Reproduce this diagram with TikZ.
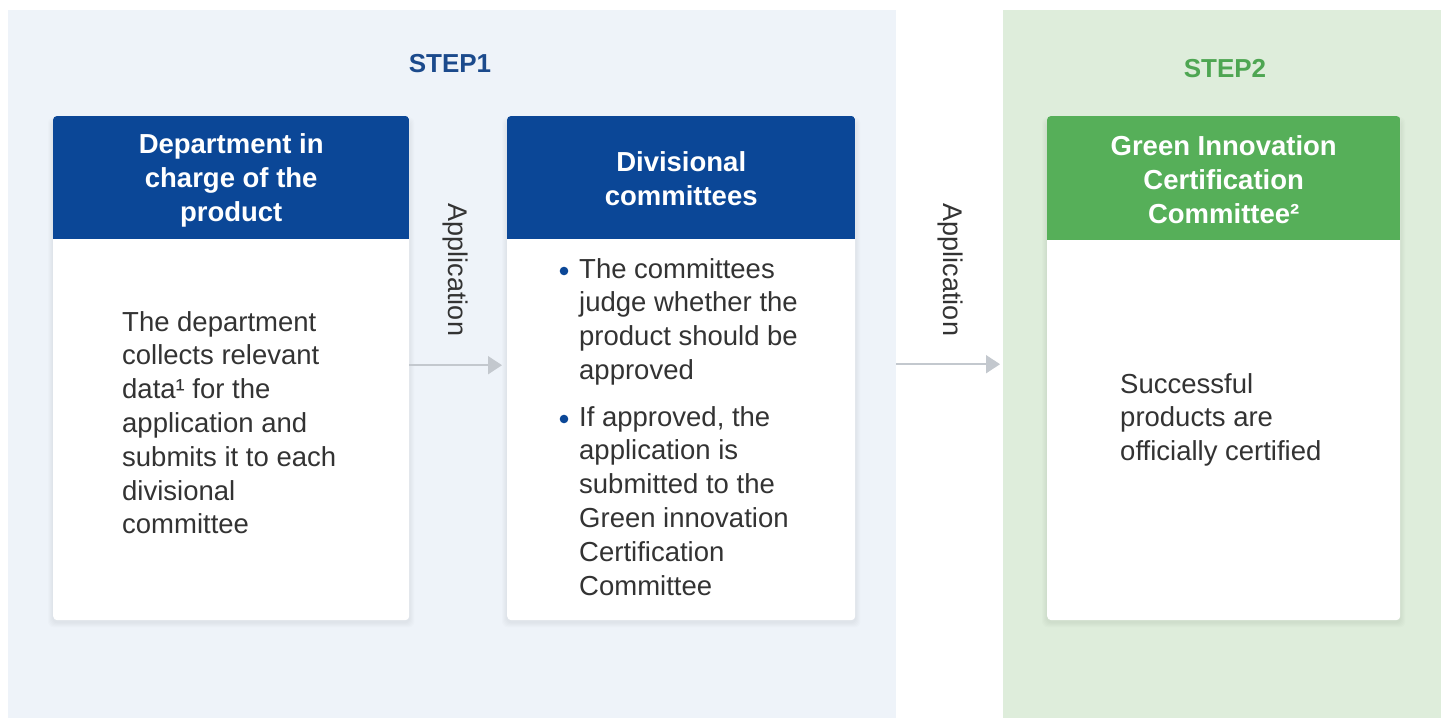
\documentclass[tikz,border=0pt]{standalone}
\usepackage{fontspec}
\setmainfont{Liberation Sans}
\usetikzlibrary{arrows.meta}
\definecolor{panelblue}{HTML}{EEF3F9}
\definecolor{panelgreen}{HTML}{DEEDDB}
\definecolor{hblue}{HTML}{0B4797}
\definecolor{hgreen}{HTML}{56AF59}
\definecolor{stepblue}{HTML}{1B4A8C}
\definecolor{stepgreen}{HTML}{4EA652}
\definecolor{bodytext}{HTML}{333333}
\definecolor{arrowgray}{HTML}{C3C8CE}
\pgfdeclarelayer{bg}
\pgfsetlayers{bg,main}
\tikzset{
  panel/.style={draw=none, inner sep=0pt, anchor=north west, minimum height=708pt},
  card/.style={fill=white, rounded corners=4pt, inner sep=0pt, anchor=north west, minimum height=504pt},
  head/.style={inner sep=0pt, anchor=north west, minimum height=123pt, text=white, align=center,
    font=\fontsize{27.5pt}{34pt}\selectfont\bfseries},
  headtext/.style={inner sep=0pt, text=white, align=center,
    font=\fontsize{27.5pt}{34pt}\selectfont\bfseries},
  body/.style={inner sep=0pt, anchor=north west, align=left, text=bodytext,
    font=\fontsize{27.5pt}{33.8pt}\selectfont},
  steplabel/.style={inner sep=0pt, anchor=base, font=\fontsize{26pt}{30pt}\selectfont\bfseries},
  applabel/.style={inner sep=0pt, rotate=-90, text=bodytext, font=\fontsize{27pt}{30pt}\selectfont},
  flow/.style={draw=arrowgray, line width=2pt, -{Triangle[length=14pt,width=18pt]}},
  bulletdot/.style={fill=hblue},
  softshadow/.style={fill=black, opacity=0.012, rounded corners=6pt}
}
\begin{document}
\begin{tikzpicture}[x=1pt,y=-1pt]
\useasboundingbox (0,0) rectangle (1449,718);

% cards
\node[card, minimum width=356pt] (c1) at (53,116) {};
\node[card, minimum width=348pt] (c2) at (507,116) {};
\node[card, minimum width=353pt] (c3) at (1047,116) {};

% background, panels and shadows on background layer
\begin{pgfonlayer}{bg}
  \fill[white] (0,0) rectangle (1449,718);
  \node[panel, fill=panelblue, minimum width=888pt] (pb) at (8,10) {};
  \node[panel, fill=panelgreen, minimum width=438pt] (pg) at (1003,10) {};
  \foreach \c in {c1,c2,c3}{
    \foreach \e in {1,2,3,4,5}{
      \fill[softshadow] ([xshift=-\e pt, yshift=-\e pt-2pt]\c.south west) rectangle ([xshift=\e pt, yshift=\e pt-6pt]\c.north east);
    }
  }
\end{pgfonlayer}

% header bars
\begin{scope}
  \clip[rounded corners=4pt] (c1.north west) rectangle (c1.south east);
  \node[head, fill=hblue, minimum width=356pt] (h1) at (c1.north west) {};
\end{scope}
\begin{scope}
  \clip[rounded corners=4pt] (c2.north west) rectangle (c2.south east);
  \node[head, fill=hblue, minimum width=348pt] (h2) at (c2.north west) {};
\end{scope}
\begin{scope}
  \clip[rounded corners=4pt] (c3.north west) rectangle (c3.south east);
  \node[head, fill=hgreen, minimum width=353pt, minimum height=124pt] (h3) at (c3.north west) {};
\end{scope}
% header texts
\node[headtext] (ht1) at ([yshift=-2.5pt]h1.center) {Department in\\charge of the\\product};
\node[headtext] (ht2) at ([yshift=-0.5pt]h2.center) {Divisional\\committees};
\node[headtext] (ht3) at ([yshift=-1pt]h3.center) {Green Innovation\\Certification\\Committee²};

% step labels
\node[steplabel, text=stepblue] (s1) at (450,72) {STEP1};
\node[steplabel, text=stepgreen] (s2) at (1225,77) {STEP2};

% body texts
\node[body] (t1) at (122,311) {The department\\collects relevant\\data¹ for the\\application and\\submits it to each\\divisional\\committee};
\node[body] (t2a) at (579,258) {The committees\\judge whether the\\product should be\\approved};
\node[body] (t2b) at (579,406) {If approved, the\\application is\\submitted to the\\Green innovation\\Certification\\Committee};
\node[body] (t3) at (1120,373) {Successful\\products are\\officially certified};
\fill[bulletdot] (564,271) circle (4.3pt);
\fill[bulletdot] (564,419) circle (4.3pt);

% application labels and arrows
\node[applabel] (a1) at (455,270) {Application};
\node[applabel] (a2) at (950,270) {Application};
\draw[flow, shorten >=5pt] ([yshift=3pt]c1.east) -- ([yshift=3pt]c2.west);
\draw[flow, shorten >=3pt] (pb.east) -- (pg.west);
\end{tikzpicture}
\end{document}
